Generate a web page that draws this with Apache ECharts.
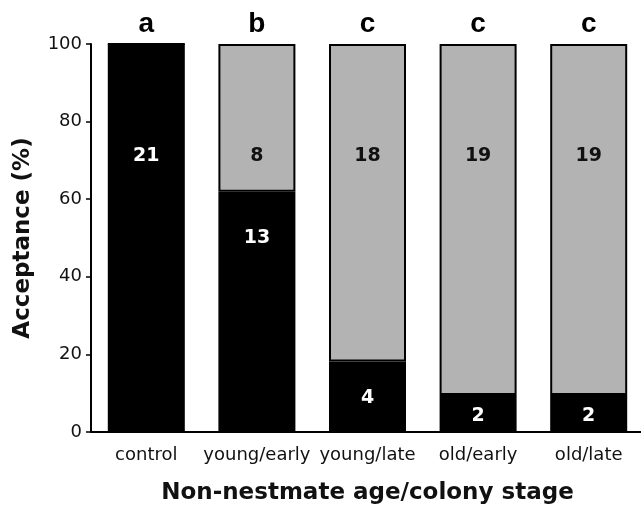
<!DOCTYPE html>
<html>
<head>
<meta charset="utf-8">
<script src="https://cdn.jsdelivr.net/npm/echarts@6/dist/echarts.min.js"></script>
<style>
  html, body { margin: 0; padding: 0; background: #fff; }
  #container { width: 641px; height: 507px; }
</style>
</head>
<body>
<div id="container"></div>
<script type="text/javascript">
// data
var categories = ['control', 'young/early', 'young/late', 'old/early', 'old/late'];
var accepted = [21, 13, 4, 2, 2];
var rejected = [0, 8, 18, 19, 19];
var groupLetters = ['a', 'b', 'c', 'c', 'c'];
var yTicks = [0, 20, 40, 60, 80, 100];

// where the count numbers sit (in % units), as in the figure
var acceptedLabelY = [71, 50, 8.8, 4.1, 4.1];
var rejectedLabelY = [71, 71, 71, 71, 71];

var font = 'Liberation Sans, Arial, sans-serif';
var wideFont = 'DejaVu Sans, Verdana, sans-serif';

var accPct = [], rejPct = [];
for (var i = 0; i < categories.length; i++) {
    var n = accepted[i] + rejected[i];
    accPct.push(accepted[i] / n * 100);
    rejPct.push(rejected[i] / n * 100);
}

var accLabels = [], rejLabels = [], letters = [];
for (var i = 0; i < categories.length; i++) {
    if (accepted[i] > 0) accLabels.push({ value: [categories[i], acceptedLabelY[i]], count: accepted[i] });
    if (rejected[i] > 0) rejLabels.push({ value: [categories[i], rejectedLabelY[i]], count: rejected[i] });
    letters.push({ value: [categories[i], 100], letter: groupLetters[i] });
}

var dom = document.getElementById('container');
var myChart = echarts.init(dom, null, { renderer: 'canvas' });
var option = {
    animation: false,
    backgroundColor: '#fff',
    grid: { left: 91, right: -3, top: 44, bottom: 75, outerBoundsMode: 'none', containLabel: false },
    xAxis: {
        type: 'category',
        data: categories,
        name: 'Non-nestmate age/colony stage',
        nameLocation: 'middle',
        nameGap: 50,
        nameTextStyle: { fontFamily: wideFont, fontSize: 23, fontWeight: 'bold', color: '#111' },
        axisLine: { lineStyle: { color: '#000', width: 2 } },
        axisTick: { alignWithLabel: true, length: 5, lineStyle: { color: '#000', width: 1.5 } },
        axisLabel: { interval: 0, hideOverlap: false, fontFamily: wideFont, fontSize: 18, color: '#111', margin: 14 },
        splitLine: { show: false }
    },
    yAxis: {
        type: 'value',
        min: 0,
        max: 100,
        interval: 20,
        name: 'Acceptance (%)',
        nameLocation: 'middle',
        nameGap: 56,
        nameTextStyle: { fontFamily: wideFont, fontSize: 23, fontWeight: 'bold', color: '#111' },
        axisLine: { show: true, lineStyle: { color: '#000', width: 2 } },
        axisTick: { show: true, length: 5, lineStyle: { color: '#000', width: 1.5 } },
        axisLabel: {
            fontFamily: wideFont, fontSize: 18, color: '#111', margin: 9,
            formatter: function (v) { return yTicks.indexOf(v) >= 0 ? String(v) : ''; }
        },
        splitLine: { show: false }
    },
    series: [
        {
            name: 'accepted',
            type: 'bar',
            stack: 'total',
            data: accPct,
            barWidth: 77,
            itemStyle: { color: '#000', borderColor: '#000', borderWidth: 1.5 }
        },
        {
            name: 'rejected',
            type: 'bar',
            stack: 'total',
            data: rejPct,
            barWidth: 77,
            itemStyle: { color: '#b3b3b3', borderColor: '#000', borderWidth: 2 }
        },
        {
            type: 'scatter',
            data: accLabels,
            symbolSize: 0,
            silent: true,
            z: 10,
            itemStyle: { opacity: 1 },
            label: {
                show: true, position: 'inside',
                fontFamily: wideFont, fontSize: 19, fontWeight: 'bold', color: '#fff',
                formatter: function (p) { return String(p.data.count); }
            }
        },
        {
            type: 'scatter',
            data: rejLabels,
            symbolSize: 0,
            silent: true,
            z: 10,
            itemStyle: { opacity: 1 },
            label: {
                show: true, position: 'inside',
                fontFamily: wideFont, fontSize: 19, fontWeight: 'bold', color: '#111',
                formatter: function (p) { return String(p.data.count); }
            }
        },
        {
            type: 'scatter',
            data: letters,
            symbolSize: 0,
            silent: true,
            z: 10,
            itemStyle: { opacity: 1 },
            label: {
                show: true, position: 'top', distance: 6,
                fontFamily: font, fontSize: 28, fontWeight: 'bold', color: '#000',
                formatter: function (p) { return p.data.letter; }
            }
        }
    ]
};
myChart.setOption(option);
</script>
</body>
</html>
